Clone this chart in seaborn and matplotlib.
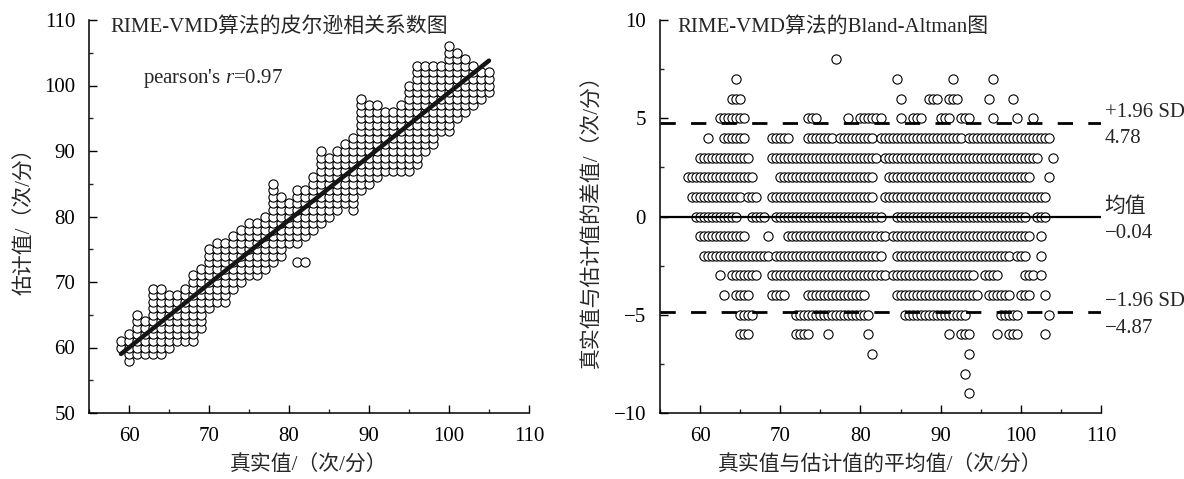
import numpy as np
import pandas as pd
import seaborn as sns
import matplotlib
matplotlib.use("Agg")
import matplotlib.pyplot as plt
from matplotlib.ticker import MultipleLocator

# ---------------- data ----------------
# Left: Pearson scatter, per true-value column the estimated range (integers)
true_x = list(range(59, 106))
est_min = [60, 58, 59, 59, 59, 59, 60, 61, 61, 61, 63, 66, 67, 67, 69, 70, 71, 71, 72, 73,
           74, 76, 76, 77, 78, 79, 80, 81, 82, 81, 84, 85, 86, 87, 87, 87, 87, 88, 90, 91,
           93, 93, 95, 96, 97, 98, 99]
est_max = [61, 62, 65, 64, 69, 69, 68, 68, 69, 71, 72, 75, 76, 76, 77, 78, 79, 79, 80, 85,
           83, 82, 84, 84, 86, 90, 89, 90, 91, 92, 98, 97, 97, 96, 96, 97, 100, 103, 103, 103,
           103, 106, 105, 104, 103, 102, 102]
extra_x = [81, 82]
extra_y = [73, 73]
pearson_r = 0.97

# Right: Bland-Altman, per difference row the runs of mean values (step 0.5)
ba_rows = [8, 7, 6, 5, 4, 3, 2, 1, 0, -1, -2, -3, -4, -5, -6, -7, -8, -9]
ba_segments = [
    [(77, 77)],
    [(64.5, 64.5), (84.5, 84.5), (91.5, 91.5), (96.5, 96.5)],
    [(64, 65), (85, 85), (88.5, 89.5), (91, 92), (96, 96), (99, 99)],
    [(62.5, 65.5), (73.5, 74.5), (78.5, 78.5), (80, 82.5), (85, 85), (86.5, 87.5),
     (90, 91), (92.5, 93.5), (96.5, 96.5), (99.5, 99.5), (101.5, 101.5)],
    [(61, 61), (63, 65.5), (69, 71), (73.5, 76.5), (77.5, 81.5), (82.5, 92.5), (93.5, 103.5)],
    [(60, 66), (69, 82), (83, 102), (104, 104)],
    [(58.5, 66.5), (70, 81.5), (83.5, 101), (103.5, 103.5)],
    [(59, 65), (66, 67), (69, 81.5), (83, 103)],
    [(59.5, 64.5), (66.5, 68), (69.5, 82.5), (84.5, 100.5), (102, 103)],
    [(60, 65.5), (68.5, 68.5), (71, 83), (84, 101), (102.5, 102.5)],
    [(60.5, 68.5), (69.5, 82.5), (84.5, 98.5), (99.5, 100.5), (102.5, 102.5)],
    [(62.5, 62.5), (64, 67), (69, 83), (84, 94), (95.5, 97), (100.5, 101.5), (102.5, 102.5)],
    [(63, 63), (64.5, 66), (69, 70.5), (73.5, 80.5), (84.5, 94.5), (96, 98.5), (100, 101), (103, 103)],
    [(65, 66.5), (72, 81), (85.5, 93), (97.5, 99.5), (103.5, 103.5)],
    [(65, 66), (72, 73.5), (76, 76), (81, 81), (91, 91), (92.5, 93.5), (97, 97), (98.5, 99.5), (103, 103)],
    [(81.5, 81.5), (93.5, 93.5)],
    [(93, 93)],
    [(93.5, 93.5)],
]
ba_mean = -0.04
ba_upper = 4.78
ba_lower = -4.87

# ---------------- build tables ----------------
lx, ly = [], []
for x, lo, hi in zip(true_x, est_min, est_max):
    for y in range(lo, hi + 1):
        lx.append(x)
        ly.append(y)
lx += extra_x
ly += extra_y
left_df = pd.DataFrame({"true": lx, "est": ly}).sort_values(["true", "est"])

bx, by = [], []
for d, segs in zip(ba_rows, ba_segments):
    for a, b in segs:
        for m in np.arange(a, b + 0.25, 0.5):
            bx.append(m)
            by.append(d)
ba_df = pd.DataFrame({"mean": bx, "diff": by}).sort_values(["mean", "diff"])

# ---------------- style ----------------
sns.set_style("ticks")
plt.rcParams["font.family"] = ["Liberation Serif", "Noto Sans CJK SC"]
plt.rcParams["mathtext.fontset"] = "custom"
plt.rcParams["mathtext.rm"] = "Liberation Serif"
plt.rcParams["mathtext.it"] = "Liberation Serif:italic"
plt.rcParams["axes.unicode_minus"] = True

FS = 15
fig = plt.figure(figsize=(11.84, 4.79), dpi=100)
ax1 = fig.add_axes([89 / 1184, 66 / 479, 440 / 1184, 393 / 479])
ax2 = fig.add_axes([660 / 1184, 66 / 479, 441 / 1184, 393 / 479])

mk = dict(s=44, color="white", edgecolor="black", linewidth=0.8, legend=False)

# Left panel
sns.scatterplot(data=left_df, x="true", y="est", ax=ax1, zorder=2, **mk)
sns.regplot(data=left_df, x="true", y="est", ax=ax1, scatter=False, ci=None,
            truncate=True, line_kws=dict(color="#151515", lw=3.2, zorder=3))
ax1.set_xlim(55, 110)
ax1.set_ylim(50, 110)
ax1.set_xticks(np.arange(60, 111, 10))
ax1.xaxis.set_minor_locator(MultipleLocator(5))
ax1.yaxis.set_major_locator(MultipleLocator(10))
ax1.yaxis.set_minor_locator(MultipleLocator(5))
ax1.set_xlabel("真实值/（次/分）", fontsize=FS, labelpad=7)
ax1.set_ylabel("估计值/（次/分）", fontsize=FS, labelpad=6)
ax1.text(0.048, 1.008, "RIME-VMD算法的皮尔逊相关系数图", transform=ax1.transAxes,
         ha="left", va="top", fontsize=FS)
ax1.text(0.123, 0.85, "pearson's $r$=0.97", transform=ax1.transAxes,
         ha="left", va="center", fontsize=FS)

# Right panel
sns.scatterplot(data=ba_df, x="mean", y="diff", ax=ax2, zorder=2, **mk)
ax2.axhline(ba_mean, color="black", lw=1.6, zorder=3)
ax2.axhline(ba_upper, color="black", lw=2.0, ls=(0, (5.5, 5.5)), zorder=3)
ax2.axhline(ba_lower, color="black", lw=2.0, ls=(0, (5.5, 5.5)), zorder=3)
ax2.set_xlim(55, 110)
ax2.set_ylim(-10, 10)
ax2.set_xticks(np.arange(60, 111, 10))
ax2.xaxis.set_minor_locator(MultipleLocator(5))
ax2.yaxis.set_major_locator(MultipleLocator(5))
ax2.yaxis.set_minor_locator(MultipleLocator(2.5))
ax2.set_xlabel("真实值与估计值的平均值/（次/分）", fontsize=FS, labelpad=7)
ax2.set_ylabel("真实值与估计值的差值/（次/分）", fontsize=FS, labelpad=8)
ax2.text(0.039, 1.008, "RIME-VMD算法的Bland-Altman图", transform=ax2.transAxes,
         ha="left", va="top", fontsize=FS)

lab = dict(xycoords=("axes fraction", "data"), textcoords="offset points",
           ha="left", va="center", fontsize=FS, annotation_clip=False)
ax2.annotate("+1.96 SD", xy=(1.008, ba_upper), xytext=(0, 7.5), **lab)
ax2.annotate(f"{ba_upper:.2f}", xy=(1.008, ba_upper), xytext=(0, -11.5), **lab)
ax2.annotate("均值", xy=(1.008, ba_mean), xytext=(0, 7), **lab)
ax2.annotate(f"{ba_mean:.2f}".replace("-", "\u2212"), xy=(1.008, ba_mean), xytext=(0, -11.5), **lab)
ax2.annotate("\u22121.96 SD", xy=(1.008, ba_lower), xytext=(0, 7.5), **lab)
ax2.annotate(f"{ba_lower:.2f}".replace("-", "\u2212"), xy=(1.008, ba_lower), xytext=(0, -11.5), **lab)

for ax in (ax1, ax2):
    sns.despine(ax=ax)
    for sp in ("left", "bottom"):
        ax.spines[sp].set_linewidth(1.1)
        ax.spines[sp].set_color("black")
    ax.tick_params(which="major", direction="in", length=6, width=1.0,
                   labelsize=FS, pad=10, colors="black")
    ax.tick_params(which="minor", direction="in", length=3, width=1.0)

fig.savefig("out.png", dpi=100)
